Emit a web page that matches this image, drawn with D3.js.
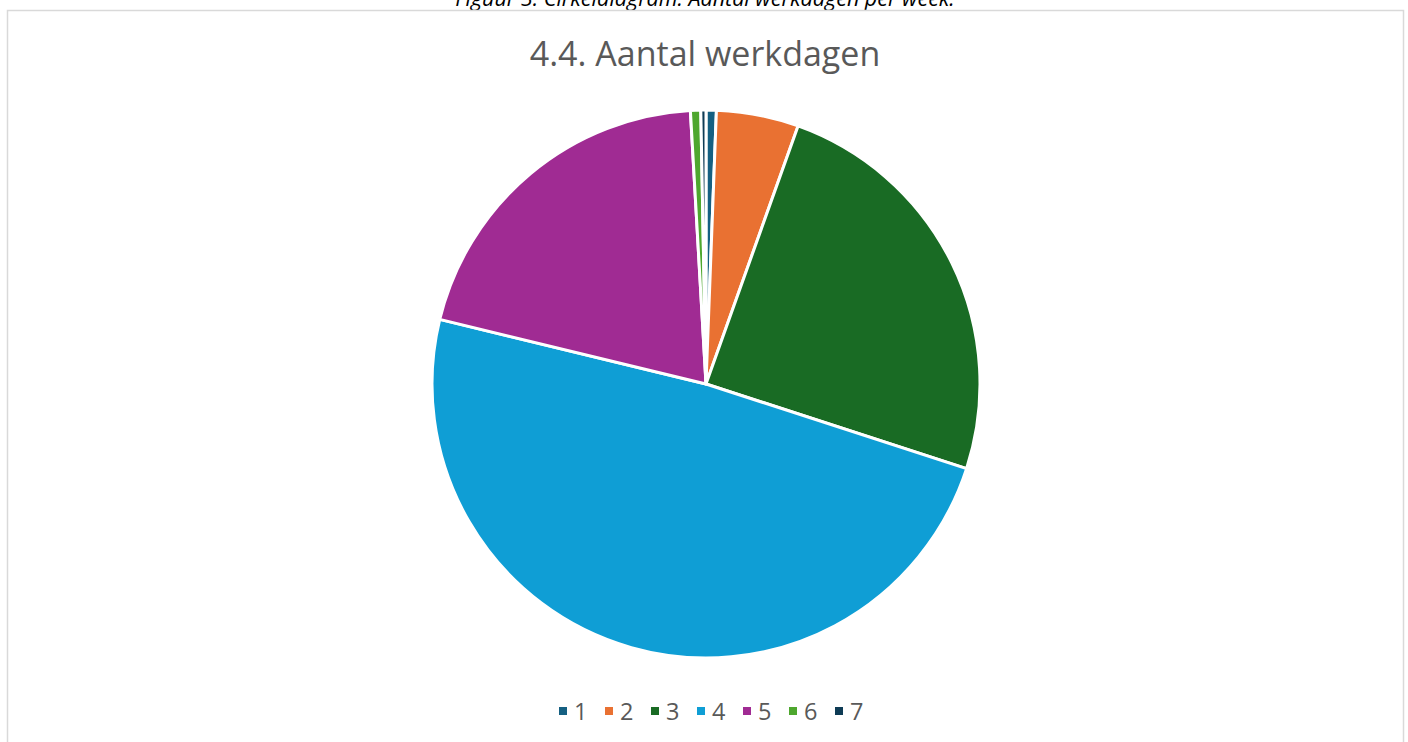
<!DOCTYPE html>
<html><head><meta charset="utf-8">
<script src="https://cdn.jsdelivr.net/npm/d3@7"></script>
<style>html,body{margin:0;padding:0;background:#fff;overflow:hidden}</style>
</head><body>
<script>
const categories = ["1","2","3","4","5","6","7"];
const values = [2, 16, 81, 161, 67, 2, 1];
const colors = ["#156082","#E97132","#196B24","#0F9ED5","#A02B93","#4EA72E","#0E3B55"];
const titleText = "4.4. Aantal werkdagen";
const captionText = "Figuur 3. Cirkeldiagram: Aantal werkdagen per week.";

const W = 1408, H = 742;
const svg = d3.select("body").append("svg").attr("width", W).attr("height", H);

svg.append("text").attr("x", 705).attr("y", 6).attr("text-anchor","middle")
  .attr("font-family","'Open Sans', sans-serif").attr("font-style","italic")
  .attr("font-size", 21.5).attr("fill","#000").text(captionText);

svg.append("rect").attr("x", 7.5).attr("y", 10.5).attr("width", 1396).attr("height", 760)
  .attr("fill","none").attr("stroke","#d9d9d9").attr("stroke-width",1.5);

svg.append("text").attr("x", 705).attr("y", 66).attr("text-anchor","middle")
  .attr("font-family","'Open Sans', sans-serif").attr("font-size", 34)
  .attr("fill","#595959").text(titleText);

const cx = 706, cy = 384, r = 274;
const pie = d3.pie().sort(null).value(d => d)(values);
const arc = d3.arc().innerRadius(0).outerRadius(r);
const g = svg.append("g").attr("transform", `translate(${cx},${cy})`);
g.selectAll("path").data(pie).join("path")
  .attr("d", arc).attr("fill", (d,i) => colors[i])
  .attr("stroke","#fff").attr("stroke-width",3).attr("stroke-linejoin","round");

const x = d3.scalePoint().domain(categories).range([559, 835]);
const lg = svg.append("g");
const items = lg.selectAll("g").data(categories).join("g")
  .attr("transform", d => `translate(${x(d)},711)`);
items.append("rect").attr("x",0).attr("y",-4).attr("width",8).attr("height",8)
  .attr("fill",(d,i)=>colors[i]);
items.append("text").attr("x",15).attr("y",8.5)
  .attr("font-family","'Open Sans', sans-serif").attr("font-size",23.5)
  .attr("fill","#595959").text(d=>d);
</script>
</body></html>
